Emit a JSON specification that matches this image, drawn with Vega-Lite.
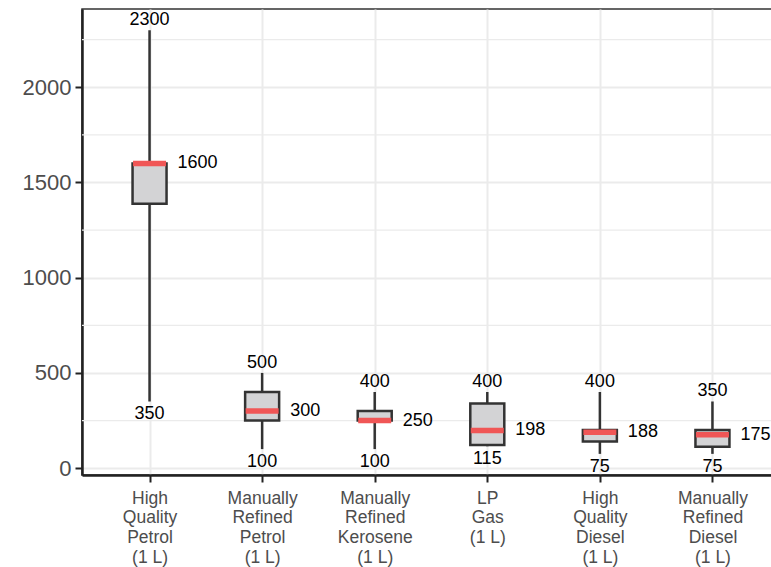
{
  "$schema": "https://vega.github.io/schema/vega-lite/v6.json",
  "width": 690,
  "height": 466,
  "autosize": "none",
  "padding": {"left": 82, "top": 9, "right": 0, "bottom": 92},
  "background": "white",
  "config": {
    "font": "Liberation Sans",
    "view": {"stroke": "#333333", "strokeWidth": 1.5}
  },
  "datasets": {
    "fuel": [
      {"fuel": "High\nQuality\nPetrol\n(1 L)", "min": 350, "q1": 1388, "median": 1600, "q3": 1600, "max": 2300},
      {"fuel": "Manually\nRefined\nPetrol\n(1 L)", "min": 100, "q1": 250, "median": 300, "q3": 400, "max": 500},
      {"fuel": "Manually\nRefined\nKerosene\n(1 L)", "min": 100, "q1": 250, "median": 250, "q3": 300, "max": 400},
      {"fuel": "LP\nGas\n(1 L)", "min": 115, "q1": 121, "median": 198, "q3": 340, "max": 400},
      {"fuel": "High\nQuality\nDiesel\n(1 L)", "min": 75, "q1": 140, "median": 188, "q3": 200, "max": 400},
      {"fuel": "Manually\nRefined\nDiesel\n(1 L)", "min": 75, "q1": 112, "median": 175, "q3": 200, "max": 350}
    ],
    "minor": [{"v": 250}, {"v": 750}, {"v": 1250}, {"v": 1750}, {"v": 2250}]
  },
  "layer": [
    {
      "data": {"name": "minor"},
      "mark": {"type": "rule", "color": "#EBEBEB", "strokeWidth": 1.2},
      "encoding": {
        "y": {"field": "v", "type": "quantitative", "scale": {"domain": [-36, 2411], "nice": false, "zero": false}}
      }
    },
    {
      "data": {"name": "fuel"},
      "layer": [
        {
          "mark": {"type": "rule", "color": "#333333", "strokeWidth": 2.5},
          "encoding": {
            "y": {"field": "min", "type": "quantitative"},
            "y2": {"field": "max"}
          }
        },
        {
          "mark": {"type": "bar", "fill": "#D3D3D5", "stroke": "#333333", "strokeWidth": 2.5, "size": 34},
          "encoding": {
            "y": {"field": "q1", "type": "quantitative"},
            "y2": {"field": "q3"}
          }
        },
        {
          "mark": {"type": "tick", "color": "#F05656", "thickness": 5.5, "size": 33, "opacity": 1},
          "encoding": {
            "y": {"field": "median", "type": "quantitative"}
          }
        },
        {
          "mark": {"type": "text", "fontSize": 18, "color": "#000000", "baseline": "alphabetic", "dy": -5},
          "encoding": {
            "y": {"field": "max", "type": "quantitative"},
            "text": {"field": "max", "type": "quantitative"}
          }
        },
        {
          "mark": {"type": "text", "fontSize": 18, "color": "#000000", "baseline": "top", "dy": 4},
          "encoding": {
            "y": {"field": "min", "type": "quantitative"},
            "text": {"field": "min", "type": "quantitative"}
          }
        },
        {
          "mark": {"type": "text", "fontSize": 18, "color": "#000000", "baseline": "middle", "align": "left", "dx": 28},
          "encoding": {
            "y": {"field": "median", "type": "quantitative"},
            "text": {"field": "median", "type": "quantitative"}
          }
        }
      ],
      "encoding": {
        "x": {
          "field": "fuel",
          "type": "nominal",
          "sort": null,
          "scale": {"type": "point", "padding": 0.6, "range": [0, 698]},
          "axis": {
            "title": null,
            "labelAngle": 0,
            "labelExpr": "split(datum.label, '\\n')",
            "labelFontSize": 17.5,
            "labelLineHeight": 19.8,
            "labelColor": "#4D4D4D",
            "labelPadding": 7,
            "tickColor": "#222222",
            "tickSize": 7,
            "tickWidth": 2,
            "domainColor": "#222222",
            "domainWidth": 2.5,
            "grid": true,
            "gridColor": "#EBEBEB",
            "gridWidth": 2
          }
        }
      }
    }
  ],
  "resolve": {"scale": {"y": "shared"}},
  "encoding": {
    "y": {
      "type": "quantitative",
      "axis": {
        "title": null,
        "format": "d",
        "values": [0, 500, 1000, 1500, 2000],
        "labelFontSize": 22,
        "labelColor": "#4D4D4D",
        "labelPadding": 4,
        "tickColor": "#222222",
        "tickSize": 7,
        "tickWidth": 2,
        "domainColor": "#222222",
        "domainWidth": 2.5,
        "grid": true,
        "gridColor": "#EBEBEB",
        "gridWidth": 2
      }
    }
  }
}
